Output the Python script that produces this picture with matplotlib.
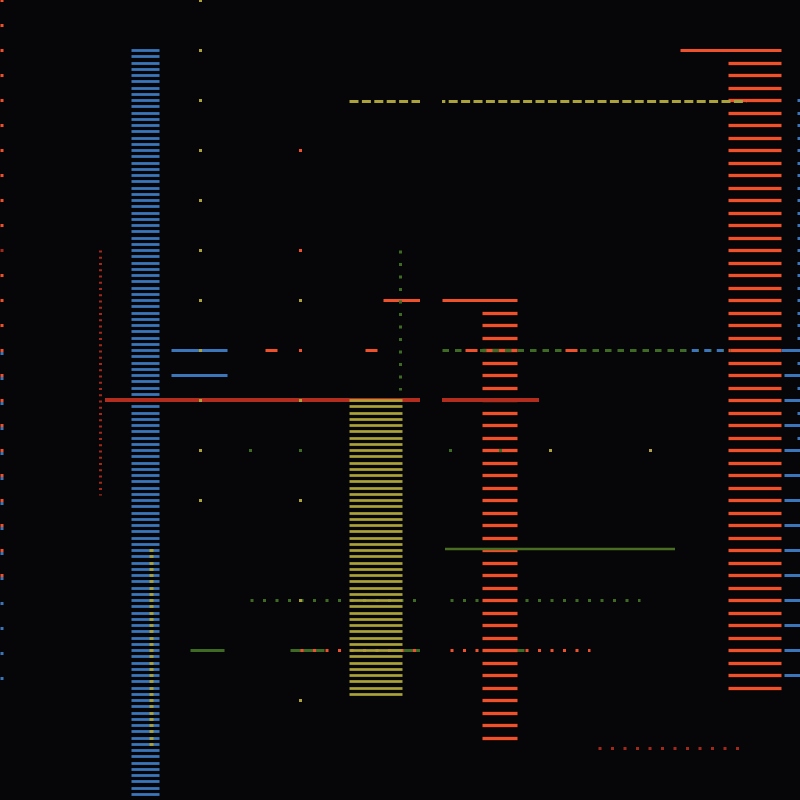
import numpy as np
import matplotlib
matplotlib.use("Agg")
import matplotlib.pyplot as plt

plt.rcParams["lines.scale_dashes"] = False

BG = "#060609"
BLUE = "#3a76b9"
ORANGE = "#f0502a"
OLIVE = "#aba33a"
TAN = "#b0a04c"
RED = "#b32d1e"
DKRED = "#a3281c"
GREEN = "#3f6a23"
GREEN2 = "#4a6d24"

PX = 0.72  # one pixel in points at dpi 100

# stacks of short horizontal strokes: left, right, first y, last y, spacing
stack_x0 = [131, 349, 728, 482, 149]
stack_x1 = [159, 402, 781, 517, 153]
stack_y0 = [50, 400, 62.5, 312.5, 550]
stack_y1 = [793.75, 693.75, 687.5, 737.5, 743.75]
stack_step = [6.25, 6.25, 12.5, 12.5, 6.25]
stack_color = [BLUE, OLIVE, ORANGE, ORANGE, OLIVE]

# single solid strokes
seg_y = [50, 300, 300, 400, 350, 375, 549, 350]
seg_x0 = [680, 442, 383, 105, 171, 171, 445, 781]
seg_x1 = [781, 517, 420, 539, 227, 227, 675, 800]
seg_color = [ORANGE, ORANGE, ORANGE, RED, BLUE, BLUE, GREEN2, BLUE]

# dashed / dotted horizontal strokes: y, x from, x to, dash on, dash off, phase
dash_y = [101, 350, 350, 350, 649.5, 649.5, 600, 748]
dash_x0 = [349, 442, 685, 265, 190, 300, 250, 598]
dash_x1 = [746, 730, 728, 577, 524, 590, 640, 740]
dash_on = [9, 6.5, 6.5, 12, 34, 3, 3, 3]
dash_off = [3.4, 6, 6, 88, 66, 9.5, 9.5, 9.5]
dash_phase = [0, 0, 6.25, 0, 0, 0, 0, 0]
dash_color = [OLIVE, GREEN, BLUE, ORANGE, GREEN, ORANGE, GREEN, DKRED]
dash_z = [3, 3, 3, 3, 1.5, 1.6, 1.5, 3]

# dotted vertical strokes: x, y from, y to, on, off
vdot_x = [100, 400]
vdot_y0 = [250, 250]
vdot_y1 = [495, 390]
vdot_on = [2, 3]
vdot_off = [4.25, 9.5]
vdot_color = [DKRED, GREEN]

# single square dots
dot_x = [200] * 11 + [300, 300, 300, 300, 300, 300, 300, 300, 300] + [250, 450, 500, 550, 650]
dot_y = list(range(0, 501, 50)) + [150, 250, 350, 300, 400, 500, 600, 700, 450] + [450, 450, 450, 450, 450]
dot_color = [OLIVE] * 11 + [ORANGE, ORANGE, ORANGE, OLIVE, OLIVE, OLIVE, OLIVE, OLIVE, GREEN] + [GREEN, GREEN, GREEN, OLIVE, TAN]

# edge ticks
left_orange_y = np.arange(0, 576, 25)
left_blue_y = np.arange(352.5, 678, 25)
right_small_y = np.arange(100, 438, 12.5)
right_long_y = np.arange(375, 676, 25)


def main():
    fig = plt.figure(figsize=(8, 8), dpi=100, facecolor=BG)
    ax = fig.add_axes([0, 0, 1, 1])
    ax.set_facecolor(BG)
    ax.set_xlim(0, 800)
    ax.set_ylim(800, 0)
    ax.axis("off")

    # stacks
    zs = [2.0, 2.2, 2.0, 2.0, 2.5]
    widths = [2.8, 2.7, 3.3, 3.3, 2.8]
    for i in range(len(stack_x0)):
        ys = np.arange(stack_y0[i], stack_y1[i] + 0.01, stack_step[i])
        ax.hlines(ys, stack_x0[i], stack_x1[i], colors=stack_color[i],
                  linewidth=widths[i] * PX, capstyle="butt", zorder=zs[i])

    # solid segments
    for y, a, b, c in zip(seg_y, seg_x0, seg_x1, seg_color):
        lw = 4 if c == RED else (2.5 if c == GREEN2 else 3)
        ax.hlines(y, a, b, colors=c, linewidth=lw * PX, capstyle="butt",
                  zorder=2.1 if c == RED else 2.3)

    # dashed horizontals
    for i in range(len(dash_y)):
        ax.plot([dash_x0[i], dash_x1[i]], [dash_y[i], dash_y[i]],
                color=dash_color[i], linewidth=3 * PX,
                linestyle=(dash_phase[i] * PX, (dash_on[i] * PX, dash_off[i] * PX)),
                dash_capstyle="butt", zorder=dash_z[i])

    # dotted verticals
    for i in range(len(vdot_x)):
        ax.plot([vdot_x[i], vdot_x[i]], [vdot_y0[i], vdot_y1[i]],
                color=vdot_color[i], linewidth=3 * PX,
                linestyle=(0, (vdot_on[i] * PX, vdot_off[i] * PX)),
                dash_capstyle="butt", zorder=3)

    # dots
    ax.scatter(dot_x, dot_y, s=(3 * PX) ** 2, marker="s", c=dot_color,
               linewidths=0, zorder=4)

    # edge ticks
    lc = [DKRED if y == 250 else ORANGE for y in left_orange_y]
    ax.hlines(left_orange_y, 0, 3, colors=lc, linewidth=3 * PX, capstyle="butt", zorder=3)
    ax.hlines(left_blue_y, 0, 3, colors=BLUE, linewidth=3 * PX, capstyle="butt", zorder=3)
    ax.hlines(right_small_y, 797, 800, colors=BLUE, linewidth=3 * PX, capstyle="butt", zorder=3)
    ax.hlines(right_long_y, 784, 800, colors=BLUE, linewidth=3 * PX, capstyle="butt", zorder=3)

    # dark vertical band cutting through the middle
    ax.axvspan(420, 442, color=BG, linewidth=0, zorder=5)

    fig.savefig("out.png", dpi=100, facecolor=BG)


if __name__ == "__main__":
    main()
